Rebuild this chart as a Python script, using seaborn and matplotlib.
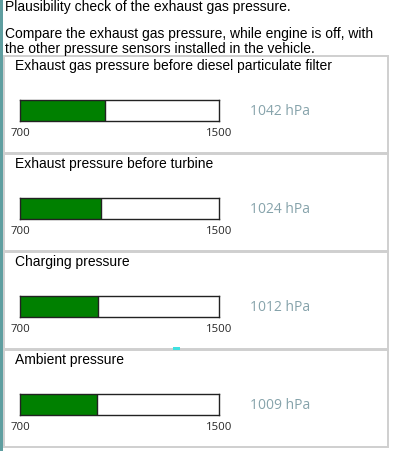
import matplotlib
matplotlib.use("Agg")
import matplotlib.pyplot as plt
import matplotlib.transforms as mtransforms
from matplotlib.patches import Rectangle
import seaborn as sns

# values
sensors = [
    "Exhaust gas pressure before diesel particulate filter",
    "Exhaust pressure before turbine",
    "Charging pressure",
    "Ambient pressure",
]
pressures = [1042, 1024, 1012, 1009]
scale_min = 700
scale_max = 1500
unit = "hPa"

header = "Plausibility check of the exhaust gas pressure."
intro_lines = ["Compare the exhaust gas pressure, while engine is off, with",
               "the other pressure sensors installed in the vehicle."]

W, H = 394, 452
sns.set_theme(style="white")
plt.rcParams["font.family"] = ["Liberation Sans", "DejaVu Sans"]

fig = plt.figure(figsize=(W / 100, H / 100), dpi=100)
fig.patch.set_facecolor("white")


def box(x, y, w, h):
    # pixel box (from top-left) -> figure fraction rect
    return [x / W, 1 - (y + h) / H, w / W, h / H]


def fx(x):
    return x / W


def fy(y):
    return 1 - y / H


# teal strip on the left edge
fig.add_artist(Rectangle((0, 0), fx(2.5), 1, transform=fig.transFigure,
                         facecolor="#5f9ea0", edgecolor="none", zorder=-2))

fig.text(fx(5), fy(11), header, ha="left", va="baseline", fontsize=10, color="black")
fig.text(fx(5), fy(38), intro_lines[0], ha="left", va="baseline", fontsize=10, color="black")
fig.text(fx(5), fy(53.5), intro_lines[1], ha="left", va="baseline", fontsize=10, color="black")

panel_tops = [57, 155, 253, 351]
panel_h = 97
# shift tick labels slightly left, like in the reference
shift = mtransforms.ScaledTranslation(-2.5 / 100, 0, fig.dpi_scale_trans)

for i, (name, val) in enumerate(zip(sensors, pressures)):
    top = panel_tops[i]
    fig.add_artist(Rectangle((fx(4), fy(top + panel_h)), fx(384), panel_h / H,
                             transform=fig.transFigure, facecolor="white",
                             edgecolor="#cfcfcf", linewidth=1.4, zorder=-1))
    fig.text(fx(15), fy(top + 13.5), name, ha="left", va="baseline", fontsize=10,
             color="black")

    ax = fig.add_axes(box(20, top + 44, 199, 21))
    sns.barplot(x=[val], y=[name], orient="h", color="#008000", width=1.0,
                saturation=1, edgecolor="none", ax=ax)
    ax.set_xlim(scale_min, scale_max)
    ax.set_ylim(0.5, -0.5)
    ax.set_facecolor("white")
    ax.set_xticks([scale_min, scale_max])
    ax.set_xticklabels([str(scale_min), str(scale_max)], fontsize=8.2,
                       family=["Open Sans", "DejaVu Sans"])
    for lab in ax.get_xticklabels():
        lab.set_transform(lab.get_transform() + shift)
    ax.tick_params(axis="x", length=0, pad=4)
    ax.set_yticks([])
    ax.set_xlabel("")
    ax.set_ylabel("")
    for s in ax.spines.values():
        s.set_visible(True)
        s.set_color("#222222")
        s.set_linewidth(1.0)
    # dark line where the green fill ends
    ax.axvline(val, color="#222222", linewidth=1.0)

    fig.text(fx(250), fy(top + 58), f"{val} {unit}", ha="left", va="baseline",
             fontsize=10, color="#86a3ab", family=["Open Sans", "DejaVu Sans"])

# small cyan marker above the last panel
fig.add_artist(Rectangle((fx(173), fy(350.5)), fx(7), 3 / H, transform=fig.transFigure,
                         facecolor="#40e0e0", edgecolor="none"))

fig.savefig("out.png", dpi=100, facecolor="white")
